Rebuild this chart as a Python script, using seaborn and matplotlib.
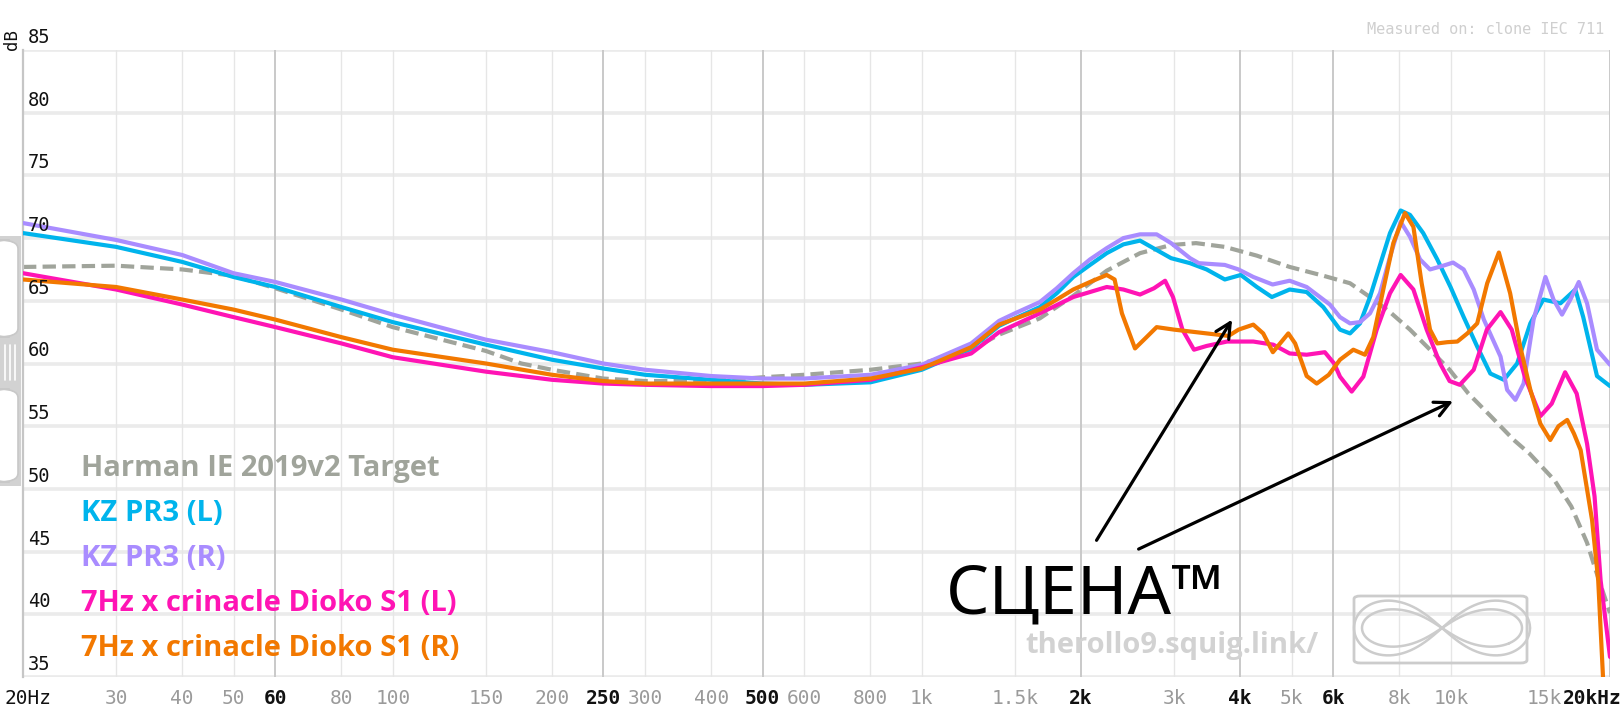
import numpy as np
import pandas as pd
import matplotlib
matplotlib.use("Agg")
import matplotlib.pyplot as plt
import seaborn as sns
from matplotlib import transforms
from matplotlib.patches import FancyBboxPatch, Rectangle
from matplotlib.lines import Line2D

# ---------------- data ----------------
target_f = [20, 30, 40, 50, 60, 80, 100, 150, 175, 200, 250, 300, 400, 500, 600, 800, 1000, 1240,
            1400, 1672, 1934, 2237, 2586, 2960, 3300, 3740, 4300, 4960, 5742, 6450, 7036, 7676,
            8375, 9137, 9950, 10800, 11900, 13160, 14100, 15700, 16900, 18100, 18800, 20000]
target_db = [67.7, 67.8, 67.5, 67.0, 66.0, 64.3, 62.9, 61.0, 60.0, 59.5, 58.8, 58.6, 58.6, 58.9,
             59.1, 59.5, 60.0, 61.1, 62.3, 63.6, 65.4, 67.4, 68.8, 69.45, 69.6, 69.3, 68.6, 67.7,
             67.0, 66.4, 65.3, 64.1, 62.7, 61.1, 59.5, 57.6, 55.8, 53.9, 52.8, 50.7, 48.6, 45.7,
             43.5, 40.1]

kzl_f = [20, 30, 40, 50, 60, 80, 100, 150, 200, 250, 300, 400, 500, 600, 800, 1000, 1240, 1400,
         1500, 1672, 1800, 1934, 2080, 2237, 2405, 2586, 2780, 2960, 3215, 3456, 3740, 4010, 4300,
         4590, 4960, 5341, 5742, 6175, 6450, 6737, 7036, 7350, 7676, 8040, 8375, 8870, 9430, 9990,
         10580, 11220, 11880, 12600, 13350, 14140, 14960, 16120, 17200, 17800, 18900, 20000]
kzl_db = [70.4, 69.3, 68.1, 66.9, 66.1, 64.5, 63.3, 61.5, 60.3, 59.6, 59.1, 58.7, 58.4, 58.3, 58.5,
          59.5, 61.2, 63.0, 63.6, 64.5, 65.6, 66.9, 67.86, 68.8, 69.5, 69.8, 69.05, 68.4, 68.0,
          67.5, 66.7, 67.06, 66.1, 65.3, 65.9, 65.7, 64.5, 62.7, 62.4, 63.2, 65.3, 67.86, 70.4,
          72.2, 71.85, 70.4, 68.3, 66.1, 63.7, 61.35, 59.2, 58.7, 60.0, 63.2, 65.1, 64.8, 65.9,
          63.7, 59.0, 58.2]

kzr_f = [20, 30, 40, 50, 60, 80, 100, 150, 200, 250, 300, 400, 500, 600, 800, 1000, 1240, 1400,
         1500, 1672, 1800, 1934, 2080, 2237, 2405, 2586, 2780, 2960, 3215, 3340, 3740, 3970, 4234,
         4605, 4960, 5341, 5742, 5910, 6175, 6450, 6737, 7036, 7350, 7676, 8040, 8375, 8748, 9137,
         9680, 10100, 10580, 11050, 11550, 12420, 12780, 13250, 13730, 14340, 15100, 15640, 16230,
         16830, 17460, 18100, 18900, 20000]
kzr_db = [71.2, 69.85, 68.65, 67.2, 66.5, 65.1, 63.9, 61.9, 60.9, 60.0, 59.5, 59.0, 58.8, 58.8,
          59.1, 59.9, 61.6, 63.4, 64.0, 64.9, 66.0, 67.2, 68.3, 69.2, 70.0, 70.3, 70.3, 69.6, 68.4,
          68.0, 67.86, 67.5, 66.9, 66.3, 66.6, 66.1, 65.1, 64.7, 63.7, 63.2, 63.3, 64.0, 65.6,
          68.5, 71.3, 70.1, 68.3, 67.5, 67.8, 68.05, 67.5, 65.9, 63.5, 60.55, 57.9, 57.1, 58.4,
          63.5, 66.9, 65.1, 63.9, 65.1, 66.5, 64.8, 61.1, 59.9]

dkl_f = [20, 30, 40, 50, 60, 80, 100, 150, 200, 250, 300, 400, 500, 600, 800, 1000, 1240, 1400,
         1672, 1934, 2237, 2405, 2586, 2748, 2884, 2985, 3110, 3270, 3456, 3775, 4234, 4619, 4960,
         5341, 5780, 6020, 6175, 6497, 6835, 7245, 7676, 8040, 8499, 9006, 9545, 9950, 10400,
         11050, 11700, 12420, 13040, 13800, 14770, 15520, 16450, 17300, 18100, 18700, 19200, 20000]
dkl_db = [67.2, 65.9, 64.7, 63.7, 62.9, 61.6, 60.5, 59.35, 58.7, 58.4, 58.3, 58.2, 58.2, 58.3,
          58.7, 59.7, 60.8, 62.5, 64.0, 65.3, 66.1, 65.9, 65.5, 66.0, 66.6, 65.3, 62.7, 61.1, 61.4,
          61.75, 61.75, 61.5, 60.8, 60.7, 60.9, 60.0, 58.95, 57.76, 58.95, 62.7, 65.6, 67.06,
          65.9, 62.7, 60.0, 58.6, 58.3, 59.5, 62.7, 64.1, 62.7, 58.95, 55.8, 56.8, 59.3, 57.6,
          53.6, 49.4, 42.7, 36.6]

dkr_f = [20, 30, 40, 50, 60, 80, 100, 150, 200, 250, 300, 400, 500, 600, 800, 1000, 1240, 1400,
         1672, 1800, 1934, 2080, 2237, 2315, 2390, 2530, 2660, 2780, 3000, 3456, 3800, 3970, 4234,
         4420, 4610, 4931, 5080, 5341, 5580, 5880, 6175, 6543, 6885, 7137, 7455, 7788, 8194, 8499,
         8810, 9137, 9430, 9848, 10290, 10750, 11220, 11720, 12330, 12950, 13530, 14140, 14770,
         15420, 15980, 16600, 17100, 17600, 18500, 19000, 19400, 19700]
dkr_db = [66.7, 66.1, 65.1, 64.3, 63.5, 62.1, 61.1, 60.0, 59.1, 58.6, 58.4, 58.4, 58.4, 58.4,
          58.8, 59.6, 61.3, 63.1, 64.3, 65.1, 65.9, 66.5, 67.06, 66.7, 64.0, 61.2, 62.1, 62.9,
          62.7, 62.4, 62.2, 62.7, 63.1, 62.4, 60.9, 62.4, 61.6, 59.0, 58.4, 59.1, 60.3, 61.1,
          60.7, 62.1, 65.9, 69.6, 72.0, 70.9, 66.4, 62.7, 61.6, 61.7, 61.75, 62.4, 63.2, 66.4,
          68.85, 65.6, 61.35, 57.9, 55.2, 53.9, 55.0, 55.5, 54.4, 53.1, 47.5, 42.7, 35.0, 31.0]

legend_labels = ["Harman IE 2019v2 Target", "KZ PR3 (L)", "KZ PR3 (R)",
                 "7Hz x crinacle Dioko S1 (L)", "7Hz x crinacle Dioko S1 (R)"]
colors = ["#a0a49b", "#00b4ec", "#a98cff", "#ff14b4", "#f27800"]

x_ticks = [20, 30, 40, 50, 60, 80, 100, 150, 200, 250, 300, 400, 500, 600, 800, 1000, 1500,
           2000, 3000, 4000, 5000, 6000, 8000, 10000, 15000, 20000]
x_tick_labels = ["20Hz", "30", "40", "50", "60", "80", "100", "150", "200", "250", "300", "400",
                 "500", "600", "800", "1k", "1.5k", "2k", "3k", "4k", "5k", "6k", "8k", "10k",
                 "15k", "20kHz"]
major_ticks = [20, 60, 250, 500, 2000, 4000, 6000, 20000]
y_ticks = [35, 40, 45, 50, 55, 60, 65, 70, 75, 80, 85]

# ---------------- figure ----------------
sns.set_theme(style="white")
plt.rcParams["font.family"] = ["DejaVu Sans"]
W, H = 1623, 723
fig = plt.figure(figsize=(W / 100, H / 100), dpi=100)
fig.patch.set_facecolor("white")
L, R, T, B = 23, 1610, 50, 677
ax = fig.add_axes([L / W, 1 - B / H, (R - L) / W, (B - T) / H])
ax.set_facecolor("white")
ax.set_xscale("log")
ax.set_xlim(20, 20000)
ax.set_ylim(35, 85)
for s in ["top", "right", "bottom"]:
    ax.spines[s].set_visible(False)
ax.spines["left"].set_color("#c6c6c6")
ax.spines["left"].set_linewidth(1.6)
ax.set_xticks([])
ax.set_yticks([])
ax.minorticks_off()
ax.tick_params(which="both", length=0)

# grid
for y in y_ticks:
    ax.axhline(y, color="#ebebeb", lw=2.6, zorder=0)
for f in x_ticks:
    if f in major_ticks:
        ax.axvline(f, color="#c9c9c9", lw=1.4, zorder=0.5)
    else:
        ax.axvline(f, color="#e6e6e6", lw=1.0, zorder=0.5)

# curves
series = [(target_f, target_db), (kzl_f, kzl_db), (kzr_f, kzr_db), (dkl_f, dkl_db), (dkr_f, dkr_db)]
for i, (fr, db) in enumerate(series):
    df = pd.DataFrame({"freq": fr, "db": db})
    kw = dict(linewidth=3.0, zorder=3 + i, solid_joinstyle="round", solid_capstyle="round")
    if i == 0:
        kw = dict(linewidth=3.0, zorder=2.5, linestyle=(0, (3.2, 1.5)))
    sns.lineplot(data=df, x="freq", y="db", ax=ax, color=colors[i], estimator=None,
                 sort=False, **kw)
ax.set_xlabel("")
ax.set_ylabel("")

# y tick labels (inside plot, above gridline)
ytrans = transforms.offset_copy(ax.get_yaxis_transform(), fig=fig, x=0, y=3, units="dots")
for y in y_ticks:
    ax.text(5 / (R - L), y, str(y), transform=ytrans, ha="left", va="bottom",
            fontsize=13.5, family="DejaVu Sans Mono", color="#111111", zorder=10)

# x tick labels
xtrans = ax.get_xaxis_transform()
ylab = (677 - 698) / (B - T)
for f, lab in zip(x_ticks, x_tick_labels):
    major = f in major_ticks
    col = "#111111" if major else "#9a9a9a"
    wt = "bold" if (major and f != 20) else "normal"
    if f == 20:
        fig.text(5 / W, 1 - 698 / H, lab, ha="left", va="center", fontsize=14,
                 family="DejaVu Sans Mono", color=col)
    elif f == 20000:
        fig.text(1563 / W, 1 - 698 / H, lab, ha="left", va="center", fontsize=14,
                 family="DejaVu Sans Mono", color=col, fontweight="bold")
    else:
        ax.text(f, ylab, lab, transform=xtrans, ha="center", va="center", fontsize=14,
                family="DejaVu Sans Mono", color=col, fontweight=wt, clip_on=False)

# dB label and measured note
fig.text(12 / W, 1 - 40 / H, "dB", rotation=90, ha="center", va="center", fontsize=12.5,
         family="DejaVu Sans Mono", color="#111111")
fig.text(1604 / W, 1 - 30 / H, "Measured on: clone IEC 711", ha="right", va="center",
         fontsize=11, family="DejaVu Sans Mono", color="#cfcfcf")

# legend text
for k, (lab, c) in enumerate(zip(legend_labels, colors)):
    fig.text(81 / W, 1 - (476 + 45 * k) / H, lab, ha="left", va="baseline", fontsize=21,
             family=["Open Sans", "DejaVu Sans"], fontweight="bold", color=c, zorder=20)

# watermark
fig.text(1025 / W, 1 - 653 / H, "therollo9.squig.link/", ha="left", va="baseline", fontsize=21,
         family=["Open Sans", "DejaVu Sans"], fontweight="bold", color="#d2d2d2", zorder=1)

# logo box with infinity loops
box = FancyBboxPatch((1354 / W, 1 - 663 / H), (1527 - 1354) / W, (663 - 596) / H,
                     boxstyle="round,pad=0,rounding_size=0.004", transform=fig.transFigure,
                     fill=False, edgecolor="#cccccc", lw=2.0)
fig.add_artist(box)
t = np.linspace(0, 2 * np.pi, 400)
for a, sh, ph in [(88, 1.0, 0.0), (80, 0.75, 0.35)]:
    den = 1 + np.sin(t + ph) ** 2
    xs = 1442 + a * np.cos(t + ph) / den
    ys = 628 + sh * 1.6 * a * np.sin(t + ph) * np.cos(t + ph) / den * 0.55
    fig.add_artist(Line2D(xs / W, 1 - ys / H, transform=fig.transFigure, color="#cccccc", lw=1.8))

# left slider widget
fig.add_artist(Rectangle((0, 1 - 486 / H), 21 / W, (486 - 236) / H, transform=fig.transFigure,
                         facecolor="#d2d2d2", edgecolor="none"))
for y0, y1 in [(240, 337), (389, 482)]:
    fig.add_artist(FancyBboxPatch((-10 / W, 1 - y1 / H), 28 / W, (y1 - y0) / H,
                                  boxstyle="round,pad=0,rounding_size=0.012",
                                  transform=fig.transFigure, facecolor="white",
                                  edgecolor="#c8c8c8", lw=1.2))
for gx in [5, 10, 15]:
    fig.add_artist(Line2D([gx / W, gx / W], [1 - 345 / H, 1 - 380 / H], transform=fig.transFigure,
                          color="white", lw=1.2))

# annotation
fig.text(946 / W, 1 - 614 / H, "СЦЕНА™", ha="left", va="baseline", fontsize=49,
         family=["Noto Sans", "DejaVu Sans"], color="black", zorder=30)
ax.annotate("", xy=(3860, 63.5), xytext=(2140, 45.9),
            arrowprops=dict(arrowstyle="->,head_length=0.9,head_width=0.45", lw=2.3, color="black",
                            shrinkA=0, shrinkB=0), zorder=30)
ax.annotate("", xy=(10100, 57.0), xytext=(2570, 45.2),
            arrowprops=dict(arrowstyle="->,head_length=0.9,head_width=0.45", lw=2.3, color="black",
                            shrinkA=0, shrinkB=0), zorder=30)

fig.savefig("out.png", dpi=100, facecolor="white")
